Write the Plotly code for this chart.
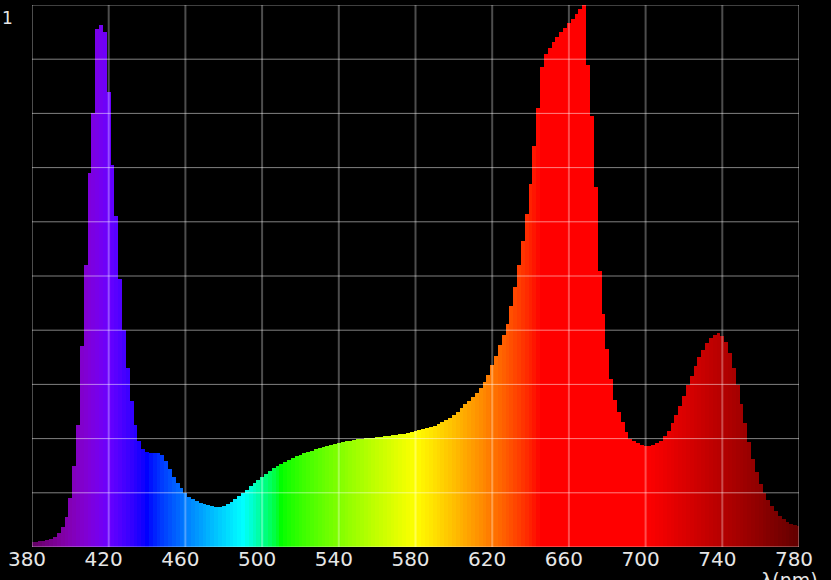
import plotly.graph_objects as go

# ---- data ----
wavelengths = list(range(380, 781, 2))
intensity = [
    0.009, 0.010, 0.011, 0.012, 0.013, 0.015, 0.019, 0.025, 0.036, 0.055,  # 380-398
    0.090, 0.150, 0.225, 0.370, 0.520, 0.690, 0.800, 0.955, 0.963, 0.950,  # 400-418
    0.840, 0.705, 0.610, 0.495, 0.400, 0.330, 0.270, 0.225, 0.195, 0.180,  # 420-438
    0.175, 0.174, 0.174, 0.174, 0.170, 0.158, 0.143, 0.130, 0.118, 0.108,  # 440-458
    0.099, 0.093, 0.088, 0.084, 0.081, 0.079, 0.077, 0.075, 0.074, 0.074,  # 460-478
    0.076, 0.079, 0.083, 0.088, 0.094, 0.100, 0.106, 0.112, 0.118, 0.124,  # 480-498
    0.130, 0.135, 0.140, 0.145, 0.149, 0.153, 0.157, 0.161, 0.165, 0.168,  # 500-518
    0.170, 0.173, 0.175, 0.177, 0.180, 0.183, 0.185, 0.187, 0.189, 0.190,  # 520-538
    0.192, 0.193, 0.195, 0.196, 0.198, 0.199, 0.200, 0.201, 0.201, 0.202,  # 540-558
    0.203, 0.203, 0.204, 0.205, 0.206, 0.207, 0.208, 0.209, 0.210, 0.212,  # 560-578
    0.214, 0.216, 0.218, 0.220, 0.222, 0.224, 0.227, 0.230, 0.234, 0.238,  # 580-598
    0.244, 0.250, 0.257, 0.263, 0.270, 0.277, 0.285, 0.294, 0.305, 0.318,  # 600-618
    0.335, 0.353, 0.372, 0.392, 0.412, 0.445, 0.480, 0.520, 0.565, 0.615,  # 620-638
    0.670, 0.740, 0.810, 0.885, 0.910, 0.920, 0.932, 0.941, 0.950, 0.958,  # 640-658
    0.966, 0.975, 0.984, 0.992, 1.000, 0.890, 0.795, 0.665, 0.510, 0.430,  # 660-678
    0.365, 0.310, 0.272, 0.250, 0.230, 0.212, 0.200, 0.195, 0.191, 0.188,  # 680-698
    0.186, 0.186, 0.188, 0.191, 0.196, 0.204, 0.214, 0.228, 0.243, 0.260,  # 700-718
    0.279, 0.298, 0.316, 0.334, 0.350, 0.364, 0.376, 0.385, 0.392, 0.395,  # 720-738
    0.390, 0.378, 0.358, 0.331, 0.298, 0.263, 0.228, 0.194, 0.163, 0.138,  # 740-758
    0.117, 0.100, 0.087, 0.076, 0.066, 0.058, 0.052, 0.047, 0.043, 0.040,  # 760-778
    0.038,                                                                 # 780
]
x_ticks = [380, 420, 460, 500, 540, 580, 620, 660, 700, 740, 780]
x_tick_labels = ["380", "420", "460", "500", "540", "580", "620", "660", "700", "740", "780"]
y_grid = [0.0, 0.1, 0.2, 0.3, 0.4, 0.5, 0.6, 0.7, 0.8, 0.9, 1.0]
y_ticks = [1.0]
y_tick_labels = ["1"]
x_title = "λ(nm)"


def wavelength_color(wl, gamma=0.8):
    """Visible-spectrum colour for a wavelength (used for styling only)."""
    if wl < 440:
        r, g, b = -(wl - 440) / 60.0, 0.0, 1.0
    elif wl < 490:
        r, g, b = 0.0, (wl - 440) / 50.0, 1.0
    elif wl < 510:
        r, g, b = 0.0, 1.0, -(wl - 510) / 20.0
    elif wl < 580:
        r, g, b = (wl - 510) / 70.0, 1.0, 0.0
    elif wl < 645:
        r, g, b = 1.0, -(wl - 645) / 65.0, 0.0
    else:
        r, g, b = 1.0, 0.0, 0.0
    if wl < 420:
        f = 0.3 + 0.7 * (wl - 380) / 40.0
    elif wl <= 700:
        f = 1.0
    else:
        f = 0.3 + 0.7 * (780 - wl) / 80.0
    def c(v):
        return 0 if v <= 0 else int(round(255 * (v * f) ** gamma))
    return f"rgb({c(r)},{c(g)},{c(b)})"


bar_colors = [wavelength_color(w) for w in wavelengths]

fig = go.Figure(
    go.Bar(
        x=wavelengths,
        y=intensity,
        marker=dict(color=bar_colors, line=dict(width=0)),
        width=2,
        hoverinfo="x+y",
    )
)

shapes = []
for xv in x_ticks:
    shapes.append(dict(type="line", xref="x", yref="paper", x0=xv, x1=xv, y0=0, y1=1,
                       line=dict(color="rgba(255,255,255,0.3)", width=2), layer="above"))
for yv in y_grid:
    shapes.append(dict(type="line", xref="paper", yref="y", x0=0, x1=1, y0=yv, y1=yv,
                       line=dict(color="rgba(255,255,255,0.5)", width=1), layer="above"))

annotations = [
    dict(text=x_title, xref="paper", yref="paper", x=1.028, y=-0.036,
         xanchor="right", yanchor="top", showarrow=False,
         font=dict(size=19, color="#e6e6e6", family="DejaVu Sans")),
]
for yv, lab in zip(y_ticks, y_tick_labels):
    annotations.append(dict(text=lab, xref="paper", yref="y", x=-0.022, y=yv,
                            xanchor="right", yanchor="top", yshift=-1, showarrow=False,
                            font=dict(size=17, color="#e6e6e6", family="DejaVu Sans")))

fig.update_layout(
    width=831,
    height=580,
    paper_bgcolor="#000000",
    plot_bgcolor="#000000",
    margin=dict(l=32, r=32, t=5, b=33, autoexpand=False),
    bargap=0,
    showlegend=False,
    shapes=shapes,
    annotations=annotations,
    font=dict(family="DejaVu Sans", color="#e6e6e6", size=18),
    xaxis=dict(
        range=[380, 780],
        tickvals=x_ticks,
        ticktext=x_tick_labels,
        showgrid=False,
        zeroline=False,
        showline=False,
        ticks="",
        tickfont=dict(size=20, color="#e6e6e6"),
        ticklabelshift=-5,
        ticklabelstandoff=-2,
        automargin=False,
        fixedrange=True,
    ),
    yaxis=dict(
        range=[0, 1],
        showticklabels=False,
        showgrid=False,
        zeroline=False,
        showline=False,
        ticks="",
        automargin=False,
        fixedrange=True,
    ),
)

fig.write_html(
    "out.html",
    config={"displayModeBar": False},
    post_script="document.body.style.margin='0px';document.body.style.overflow='hidden';",
)
